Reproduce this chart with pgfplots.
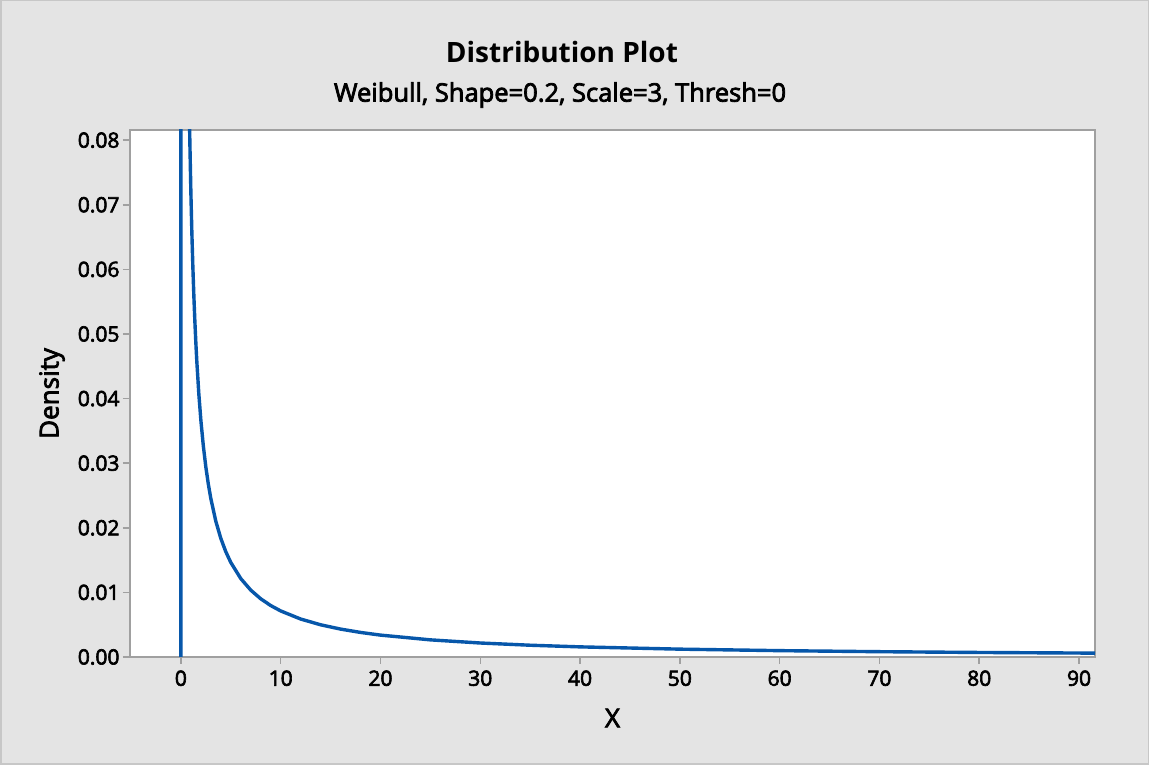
\documentclass[border=0pt]{standalone}
\usepackage{fontspec}
\setmainfont{Open Sans}
\newfontfamily\semib{Open Sans}[BoldFont={Open Sans}, BoldFeatures={FakeBold=3}]
\usepackage{pgfplots}
\pgfplotsset{compat=1.18}
\definecolor{bgc}{HTML}{E4E4E4}
\definecolor{framec}{HTML}{A0A0A0}
\definecolor{curvec}{HTML}{0757AA}
\begin{document}
\begin{tikzpicture}[x=1pt,y=1pt]
\fill[bgc] (0,0) rectangle (1149,765);
\draw[black!22, line width=1.5pt] (0.75,0.75) rectangle (1148.25,764.25);
\useasboundingbox (0,0) rectangle (1149,765);
\node[font=\fontsize{28}{32}\selectfont\bfseries] at (562,765-52) {Distribution Plot};
\node[font=\fontsize{25.5}{29}\semib\bfseries] at (560,765-95) {Weibull, Shape=0.2, Scale=3, Thresh=0};
\begin{axis}[
  at={(130pt,108pt)}, anchor=south west, scale only axis,
  width=965pt, height=527pt,
  xmin=-5.1, xmax=91.6, ymin=0, ymax=0.08158,
  axis background/.style={fill=white},
  axis line style={framec, line width=1.5pt},
  xtick={0,10,20,30,40,50,60,70,80,90},
  ytick={0,0.01,0.02,0.03,0.04,0.05,0.06,0.07,0.08},
  tick pos=left, tick align=outside, major tick length=7pt,
  tick style={framec, line width=1.5pt},
  /pgf/number format/assume math mode=true,
  yticklabel style={/pgf/number format/.cd, fixed, fixed zerofill, precision=2},
  xticklabel style={yshift=-3pt},
  scaled y ticks=false,
  ticklabel style={font=\fontsize{21}{24}\semib\bfseries},
  xlabel={X}, ylabel={Density},
  label style={font=\fontsize{26}{30}\semib\bfseries},
  xlabel style={at={(axis description cs:0.5,-0.1157)}, anchor=center},
  ylabel style={at={(axis description cs:-0.0808,0.5)}, anchor=center},
]
\addplot[curvec, line width=3.4pt, line join=round] coordinates {
(0,0) (0,0.5) (0.5,0.1390) (0.8,0.08908) (0.85,0.08406) (0.9,0.07959) (1.0,0.07194)
(1.1,0.06564) (1.2,0.06034) (1.3,0.05585) (1.4,0.05198) (1.5,0.04860) (1.6,0.04564)
(1.8,0.04067) (2,0.03667) (2.25,0.03265) (2.5,0.02941) (2.75,0.02675) (3,0.02453)
(3.5,0.02101) (4,0.01836) (4.5,0.016295) (5,0.014636) (6,0.01214) (7,0.010352)
(8,0.00901) (9,0.007965) (10,0.00713) (12,0.005878) (14,0.004986) (16,0.004319)
(18,0.003802) (20,0.003389) (25,0.002652) (30,0.002166) (35,0.001822) (40,0.001567)
(50,0.0012138) (60,0.0009826) (70,0.0008208) (80,0.0007009) (91.6,0.000598)
};
\end{axis}
\end{tikzpicture}
\end{document}
